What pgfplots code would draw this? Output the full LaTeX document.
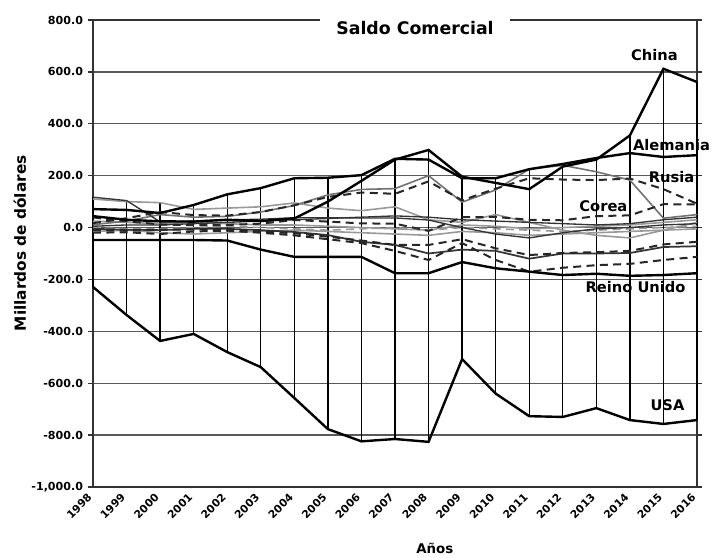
\documentclass[border=0pt]{standalone}
\usepackage{fontspec}
\setmainfont{DejaVu Sans}
\usepackage{pgfplots}
\pgfplotsset{compat=1.18}
\begin{document}
\begin{tikzpicture}
\path[use as bounding box] (0,0) rectangle (534pt,417.75pt);
\begin{axis}[
  name=ax,
  at={(69.75pt,52.5pt)}, anchor=south west,
  scale only axis, width=453pt, height=350.25pt,
  xmin=1998, xmax=2016, ymin=-1000, ymax=800,
  clip=false,
  xtick={1998,1999,2000,2001,2002,2003,2004,2005,2006,2007,2008,2009,2010,2011,2012,2013,2014,2015,2016},
  xticklabels={1998,1999,2000,2001,2002,2003,2004,2005,2006,2007,2008,2009,2010,2011,2012,2013,2014,2015,2016},
  ytick={-1000,-800,-600,-400,-200,0,200,400,600,800},
  ymajorgrids,
  major grid style={black!65, line width=1pt},
  axis line style={black!80, line width=1pt},
  xtick style={draw=none},
  ytick style={black!80, line width=1pt},
  tick align=outside, major tick length=4pt,
  x tick label style={rotate=45, anchor=east, font=\fontsize{8}{9}\selectfont\bfseries},
  y tick label style={font=\fontsize{8.3}{10}\selectfont\bfseries,
     /pgf/number format/fixed, /pgf/number format/fixed zerofill,
     /pgf/number format/precision=1, /pgf/number format/1000 sep={,},
     /pgf/number format/assume math mode=true},
  ylabel={Millardos de dólares},
  ylabel style={at={(axis description cs:-0.121,0.522)}, anchor=center, font=\fontsize{11.5}{13}\selectfont\bfseries},
  xlabel={Años},
  xlabel style={at={(axis description cs:0.566,-0.131)}, anchor=center, font=\fontsize{10}{12}\selectfont\bfseries},
  unbounded coords=jump,
  thickline/.style={black, line width=1.8pt},
  dashline/.style={black!85, line width=1.5pt, dash pattern=on 6pt off 4pt},
  grayline/.style={black!40, line width=1.2pt},
  thinline/.style={black!80, line width=1pt},
]
% high-low lines
\addplot[black, line width=1pt] coordinates {
(1998,117) (1998,-229) (1998,nan)
(1999,104) (1999,-337) (1999,nan)
(2000,96) (2000,-437) (2000,nan)
(2001,87) (2001,-410) (2001,nan)
(2002,128) (2002,-480) (2002,nan)
(2003,152) (2003,-538) (2003,nan)
(2004,190) (2004,-657) (2004,nan)
(2005,192) (2005,-777) (2005,nan)
(2006,202) (2006,-824) (2006,nan)
(2007,265) (2007,-815) (2007,nan)
(2008,299) (2008,-826) (2008,nan)
(2009,196) (2009,-507) (2009,nan)
(2010,190) (2010,-640) (2010,nan)
(2011,225) (2011,-727) (2011,nan)
(2012,245) (2012,-730) (2012,nan)
(2013,268) (2013,-696) (2013,nan)
(2014,355) (2014,-742) (2014,nan)
(2015,612) (2015,-757) (2015,nan)
(2016,561) (2016,-742)
};
% gray lines near zero
\addplot[grayline] coordinates {(1998,25) (1999,20) (2000,15) (2001,20) (2002,15) (2003,10) (2004,10) (2005,5) (2006,0) (2007,-5) (2008,-10) (2009,10) (2010,5) (2011,-5) (2012,0) (2013,5) (2014,10) (2015,20) (2016,30)};
\addplot[grayline] coordinates {(1998,-15) (1999,-10) (2000,-20) (2001,-25) (2002,-20) (2003,-15) (2004,-10) (2005,-15) (2006,-20) (2007,-25) (2008,-30) (2009,-15) (2010,-20) (2011,-30) (2012,-25) (2013,-20) (2014,-15) (2015,-10) (2016,-5)};
\addplot[grayline, dash pattern=on 6pt off 4pt] coordinates {(1998,0) (1999,-5) (2000,-5) (2001,0) (2002,5) (2003,0) (2004,-5) (2005,-10) (2006,-5) (2007,0) (2008,-10) (2009,0) (2010,-5) (2011,-10) (2012,-15) (2013,-10) (2014,-5) (2015,0) (2016,5)};
% Japan-like gray
\addplot[grayline] coordinates {(1998,110) (1999,100) (2000,96) (2001,70) (2002,75) (2003,80) (2004,95) (2005,75) (2006,65) (2007,80) (2008,30) (2009,20) (2010,50) (2011,20) (2012,-10) (2013,-30) (2014,-40) (2015,-10) (2016,20)};
% Saudi-like gray
\addplot[black!55, line width=1.2pt] coordinates {(1998,11) (1999,25) (2000,50) (2001,40) (2002,43) (2003,60) (2004,85) (2005,126) (2006,147) (2007,150) (2008,200) (2009,98) (2010,145) (2011,225) (2012,240) (2013,215) (2014,183) (2015,36) (2016,50)};
% other thin black lines
\addplot[thinline] coordinates {(1998,5) (1999,10) (2000,10) (2001,15) (2002,20) (2003,25) (2004,30) (2005,35) (2006,40) (2007,45) (2008,40) (2009,30) (2010,25) (2011,20) (2012,15) (2013,10) (2014,15) (2015,30) (2016,40)};
\addplot[thinline] coordinates {(1998,117) (1999,104) (2000,22) (2001,25) (2002,30) (2003,32) (2004,38) (2005,38) (2006,37) (2007,37) (2008,29) (2009,0) (2010,-25) (2011,-40) (2012,-20) (2013,-5) (2014,0) (2015,10) (2016,15)};
\addplot[thinline, line width=1.3pt] coordinates {(1998,-5) (1999,-8) (2000,-10) (2001,-5) (2002,-5) (2003,-10) (2004,-17) (2005,-29) (2006,-55) (2007,-67) (2008,-100) (2009,-85) (2010,-90) (2011,-120) (2012,-100) (2013,-100) (2014,-98) (2015,-75) (2016,-72)};
% dashed lines
\addplot[dashline] coordinates {(1998,-10) (1999,-12) (2000,-8) (2001,-8) (2002,-5) (2003,-15) (2004,-22) (2005,-35) (2006,-50) (2007,-67) (2008,-67) (2009,-45) (2010,-80) (2011,-106) (2012,-98) (2013,-95) (2014,-90) (2015,-65) (2016,-55)};
\addplot[dashline] coordinates {(1998,-20) (1999,-18) (2000,-25) (2001,-15) (2002,-12) (2003,-20) (2004,-30) (2005,-45) (2006,-60) (2007,-90) (2008,-125) (2009,-60) (2010,-125) (2011,-170) (2012,-155) (2013,-145) (2014,-140) (2015,-125) (2016,-113)};
% Corea
\addplot[dashline] coordinates {(1998,39) (1999,24) (2000,12) (2001,9) (2002,10) (2003,15) (2004,29) (2005,23) (2006,16) (2007,15) (2008,-13) (2009,40) (2010,41) (2011,30) (2012,28) (2013,44) (2014,47) (2015,90) (2016,89)};
% Rusia
\addplot[dashline] coordinates {(1998,17) (1999,36) (2000,60) (2001,48) (2002,46) (2003,60) (2004,86) (2005,118) (2006,135) (2007,130) (2008,178) (2009,105) (2010,150) (2011,190) (2012,185) (2013,183) (2014,189) (2015,148) (2016,92)};
% Reino Unido
\addplot[thickline] coordinates {(1998,-48) (1999,-48) (2000,-48) (2001,-48) (2002,-50) (2003,-85) (2004,-113) (2005,-113) (2006,-113) (2007,-176) (2008,-176) (2009,-133) (2010,-157) (2011,-170) (2012,-183) (2013,-178) (2014,-186) (2015,-183) (2016,-176)};
% Alemania
\addplot[thickline] coordinates {(1998,71) (1999,68) (2000,56) (2001,87) (2002,128) (2003,152) (2004,190) (2005,192) (2006,202) (2007,265) (2008,262) (2009,190) (2010,190) (2011,225) (2012,245) (2013,268) (2014,287) (2015,272) (2016,279)};
% China
\addplot[thickline] coordinates {(1998,44) (1999,30) (2000,24) (2001,23) (2002,30) (2003,25) (2004,35) (2005,100) (2006,180) (2007,262) (2008,299) (2009,196) (2010,172) (2011,148) (2012,235) (2013,262) (2014,355) (2015,612) (2016,561)};
% USA
\addplot[thickline] coordinates {(1998,-229) (1999,-337) (2000,-437) (2001,-410) (2002,-480) (2003,-538) (2004,-657) (2005,-777) (2006,-824) (2007,-815) (2008,-826) (2009,-507) (2010,-640) (2011,-727) (2012,-730) (2013,-696) (2014,-742) (2015,-757) (2016,-742)};
% labels
\node[font=\fontsize{11}{13}\selectfont\bfseries] at (axis cs:2014.73,665) {China};
\node[font=\fontsize{11}{13}\selectfont\bfseries] at (axis cs:2015.24,318) {Alemania};
\node[font=\fontsize{11}{13}\selectfont\bfseries] at (axis cs:2015.24,195) {Rusia};
\node[font=\fontsize{11}{13}\selectfont\bfseries] at (axis cs:2013.21,83) {Corea};
\node[font=\fontsize{11}{13}\selectfont\bfseries] at (axis cs:2014.17,-230) {Reino Unido};
\node[font=\fontsize{11}{13}\selectfont\bfseries] at (axis cs:2015.12,-684) {USA};
\end{axis}
\node[fill=white, minimum width=142.5pt, minimum height=26pt, inner sep=0pt,
  font=\fontsize{13}{15}\selectfont\bfseries] at (311.25pt,396.75pt) {Saldo Comercial};
\end{tikzpicture}
\end{document}
